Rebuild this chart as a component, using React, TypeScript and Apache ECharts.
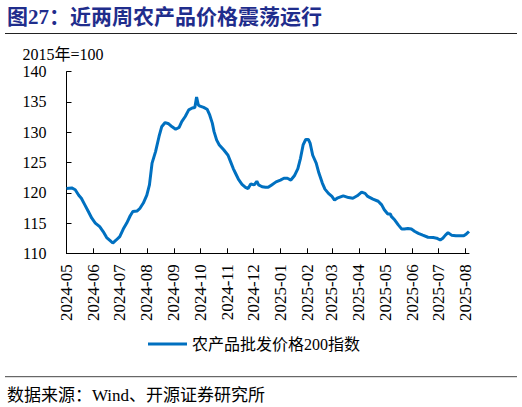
import React, { useEffect, useRef } from "react";
import * as echarts from "echarts";

const dates = [
  "2024-05-01", "2024-05-07", "2024-05-11", "2024-05-15", "2024-05-18", "2024-05-22", "2024-05-26", "2024-05-30",
  "2024-06-03", "2024-06-08", "2024-06-12", "2024-06-16", "2024-06-20", "2024-06-23", "2024-06-27",
  "2024-07-01", "2024-07-05", "2024-07-09", "2024-07-13", "2024-07-16", "2024-07-21", "2024-07-24", "2024-07-28",
  "2024-08-01", "2024-08-04", "2024-08-07", "2024-08-11", "2024-08-15", "2024-08-18", "2024-08-22", "2024-08-26", "2024-08-30",
  "2024-09-03", "2024-09-07", "2024-09-10", "2024-09-14", "2024-09-18", "2024-09-22", "2024-09-25", "2024-09-27", "2024-09-29",
  "2024-10-01", "2024-10-05", "2024-10-09", "2024-10-12", "2024-10-15", "2024-10-17", "2024-10-20", "2024-10-23", "2024-10-28",
  "2024-11-02", "2024-11-05", "2024-11-08", "2024-11-11", "2024-11-14", "2024-11-18", "2024-11-22", "2024-11-25", "2024-11-28",
  "2024-12-02", "2024-12-05", "2024-12-07", "2024-12-11", "2024-12-15", "2024-12-18", "2024-12-22", "2024-12-27",
  "2025-01-01", "2025-01-05", "2025-01-09", "2025-01-13", "2025-01-17", "2025-01-21", "2025-01-24", "2025-01-27", "2025-01-30",
  "2025-02-02", "2025-02-04", "2025-02-07", "2025-02-11", "2025-02-14", "2025-02-18", "2025-02-21", "2025-02-25",
  "2025-03-01", "2025-03-04", "2025-03-07", "2025-03-14", "2025-03-20", "2025-03-25", "2025-03-30",
  "2025-04-04", "2025-04-08", "2025-04-11", "2025-04-17", "2025-04-23", "2025-04-27", "2025-04-30",
  "2025-05-04", "2025-05-07", "2025-05-08", "2025-05-12", "2025-05-16", "2025-05-20", "2025-05-23", "2025-05-27", "2025-05-31",
  "2025-06-04", "2025-06-08", "2025-06-13", "2025-06-19", "2025-06-25", "2025-06-29",
  "2025-07-03", "2025-07-06", "2025-07-09", "2025-07-12", "2025-07-16", "2025-07-21", "2025-07-26", "2025-07-30",
  "2025-08-02", "2025-08-05",
];

const indexValues = [
  120.7, 120.8, 120.5, 119.6, 119.1, 118.0, 116.9, 115.8,
  115.0, 114.4, 113.6, 112.6, 112.1, 111.7, 112.2,
  112.75, 114.0, 115.0, 116.2, 116.9, 117.0, 117.4, 118.3,
  119.6, 121.3, 124.9, 126.8, 129.3, 130.9, 131.6, 131.4, 130.9,
  130.5, 130.8, 131.75, 132.6, 133.7, 134.0, 134.1, 135.8, 134.5,
  134.3, 134.1, 133.8, 132.85, 131.5, 130.1, 128.7, 127.9, 127.1,
  126.2, 125.1, 124.0, 123.1, 122.2, 121.4, 120.9, 120.7, 121.45,
  121.3, 121.9, 121.3, 121.0, 120.9, 120.9, 121.3, 121.8,
  122.1, 122.4, 122.4, 122.1, 122.8, 124.0, 125.7, 127.9, 128.8,
  128.8, 128.2, 126.2, 124.9, 123.3, 121.6, 120.6, 119.9,
  119.4, 118.8, 119.1, 119.5, 119.2, 119.1, 119.5,
  120.1, 119.9, 119.4, 118.95, 118.6, 118.0, 117.2,
  116.5, 116.5, 116.1, 115.5, 114.7, 114.0, 114.0, 114.1, 114.0,
  113.6, 113.3, 113.0, 112.65, 112.6, 112.5,
  112.2, 112.5, 113.0, 113.4, 113.0, 112.9, 112.9, 112.9,
  113.2, 113.6,
];

const axisStart = "2024-05-01";
const axisEnd = "2025-08-05";
const yMin = 110;
const yMax = 140;
const yStep = 5;

const titleText = "图27：近两周农产品价格震荡运行";
const seriesName = "农产品批发价格200指数";
const unitText = "2015年=100";
const sourceText = "数据来源：Wind、开源证券研究所";

const SERIF = "'Liberation Serif', 'Times New Roman', 'Noto Sans CJK SC', serif";
const DAY = 86400000;

export default function App() {
  const ref = useRef<HTMLDivElement>(null);

  useEffect(() => {
    document.body.style.margin = "0";
    const chart = echarts.init(ref.current!, null, { renderer: "svg" });
    chart.setOption({
      animation: false,
      backgroundColor: "#ffffff",
      grid: { left: 66.5, right: 53, top: 71.7, bottom: 153.7, containLabel: false },
      xAxis: {
        type: "time",
        min: axisStart,
        max: axisEnd,
        splitNumber: 15,
        minInterval: 28 * DAY,
        maxInterval: 31 * DAY,
        axisLine: { show: true, lineStyle: { color: "#000", width: 1 } },
        axisTick: { show: true, inside: true, length: 5, lineStyle: { color: "#000", width: 1 } },
        axisLabel: {
          rotate: 90,
          fontSize: 17,
          color: "#000",
          fontFamily: SERIF,
          margin: 11,
          hideOverlap: false,
          formatter: (val: number) => {
            const d = new Date(val);
            return `${d.getFullYear()}-${String(d.getMonth() + 1).padStart(2, "0")}`;
          },
        },
        splitLine: { show: false },
      },
      yAxis: {
        type: "value",
        min: yMin,
        max: yMax,
        interval: yStep,
        axisLine: { show: true, lineStyle: { color: "#000", width: 1 } },
        axisTick: { show: true, inside: true, length: 5, lineStyle: { color: "#000", width: 1 } },
        axisLabel: { fontSize: 16, color: "#000", fontFamily: SERIF, margin: 20 },
        splitLine: { show: false },
      },
      legend: {
        data: [seriesName],
        left: 148,
        top: 336,
        padding: 0,
        icon: "rect",
        itemWidth: 39,
        itemHeight: 3,
        textStyle: { fontSize: 16, color: "#000", fontFamily: SERIF },
      },
      series: [
        {
          name: seriesName,
          type: "line",
          data: dates.map((d, i) => [d, indexValues[i]]),
          showSymbol: false,
          symbol: "none",
          lineStyle: { color: "#0070C0", width: 3 },
          itemStyle: { color: "#0070C0" },
        },
      ],
      graphic: [
        {
          type: "text",
          x: 7,
          y: 16.5,
          style: {
            text: titleText,
            fontSize: 21,
            fontWeight: "bold",
            fill: "#1f2d8c",
            fontFamily: SERIF,
            verticalAlign: "middle",
          },
        },
        {
          type: "line",
          shape: { x1: 5, y1: 33.5, x2: 517, y2: 33.5 },
          style: { stroke: "#222", lineWidth: 1.2 },
        },
        {
          type: "text",
          x: 22.5,
          y: 54,
          style: { text: unitText, fontSize: 16, fill: "#000", fontFamily: SERIF, verticalAlign: "middle" },
        },
        {
          type: "line",
          shape: { x1: 5, y1: 376.7, x2: 517, y2: 376.7 },
          style: { stroke: "#444", lineWidth: 1 },
        },
        {
          type: "text",
          x: 7,
          y: 395,
          style: { text: sourceText, fontSize: 17, fill: "#000", fontFamily: SERIF, verticalAlign: "middle" },
        },
      ],
    });
    return () => chart.dispose();
  }, []);

  return <div ref={ref} style={{ width: 522, height: 407 }} />;
}
